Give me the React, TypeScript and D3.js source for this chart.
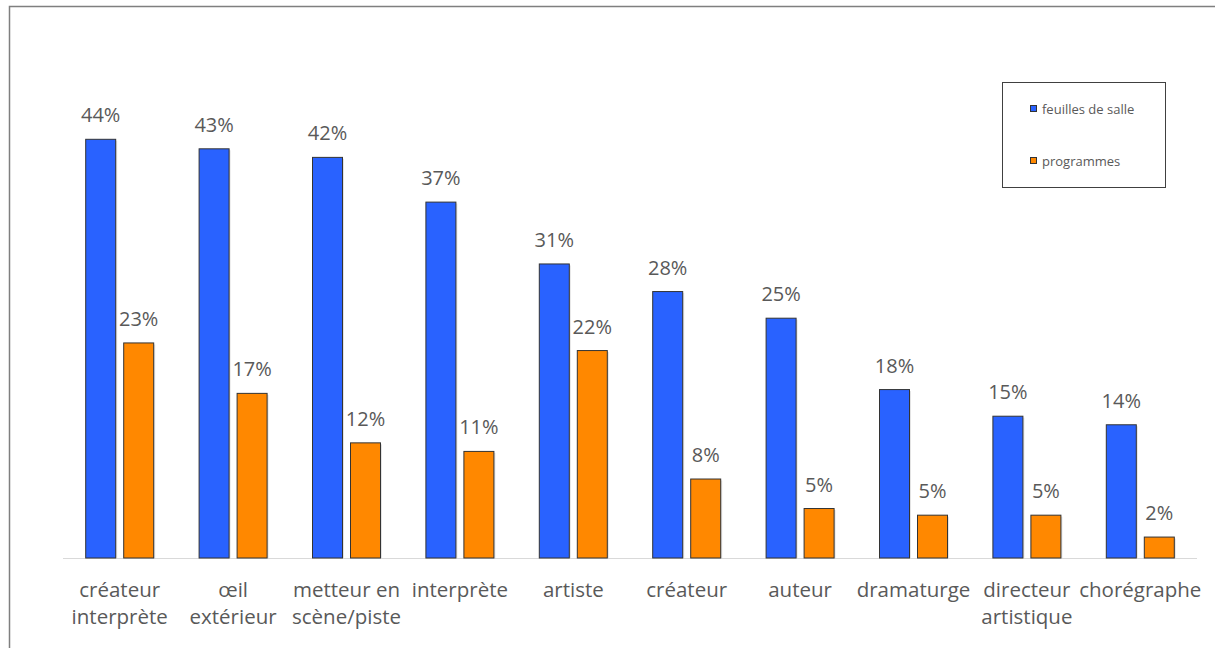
import React from "react";
import * as d3 from "d3";

const categories: string[][] = [
  ["créateur", "interprète"],
  ["œil", "extérieur"],
  ["metteur en", "scène/piste"],
  ["interprète"],
  ["artiste"],
  ["créateur"],
  ["auteur"],
  ["dramaturge"],
  ["directeur", "artistique"],
  ["chorégraphe"],
];
const feuilles: number[] = [44.0, 43.0, 42.1, 37.4, 30.9, 28.0, 25.2, 17.7, 14.9, 14.0];
const programmes: number[] = [22.6, 17.3, 12.1, 11.2, 21.8, 8.3, 5.2, 4.5, 4.5, 2.2];
const seriesNames: string[] = ["feuilles de salle", "programmes"];
const colors: string[] = ["#2962FF", "#FF8800"];

const W = 1215;
const H = 648;
const M = { left: 63, right: 1197, top: 139.3, base: 558 };
const FONT = "'Open Sans', sans-serif";

export default function App() {
  const idx = categories.map((_, i) => String(i));
  const x = d3.scaleBand<string>().domain(idx).range([M.left, M.right]).paddingInner(0).paddingOuter(0);
  const y = d3.scaleLinear().domain([0, 44]).range([M.base, M.top]);
  const barW = 30;
  const gap = 8;
  const series = [feuilles, programmes];

  return (
    <svg width={W} height={H} style={{ position: "absolute", left: 0, top: 0, background: "#fff" }}>
      <rect x={9.5} y={6.5} width={W} height={H} fill="none" stroke="#7f7f7f" strokeWidth={1.5} />
      <line x1={M.left} x2={M.right} y1={M.base + 0.5} y2={M.base + 0.5} stroke="#d9d9d9" strokeWidth={1} />
      {categories.map((cat, i) => {
        const cx = (x(String(i)) as number) + x.bandwidth() / 2;
        return (
          <g key={i}>
            {series.map((s, j) => {
              const bx = j === 0 ? cx - gap / 2 - barW : cx + gap / 2;
              const v = s[i];
              return (
                <g key={j}>
                  <rect x={bx + 1.5} y={y(v) + 1.5} width={barW} height={M.base - y(v) - 1.5} fill="#d0d0d0" opacity={0.6} />
                  <rect x={bx} y={y(v)} width={barW} height={M.base - y(v)} fill={colors[j]} stroke="#333" strokeWidth={1} />
                  <text x={bx + barW / 2} y={y(v) - 17} textAnchor="middle" fontFamily={FONT} fontSize={20} fill="#595959">
                    {Math.round(v) + "%"}
                  </text>
                </g>
              );
            })}
            {cat.map((line, k) => (
              <text key={k} x={cx} y={597 + k * 27} textAnchor="middle" fontFamily={FONT} fontSize={20.5} fill="#595959">
                {line}
              </text>
            ))}
          </g>
        );
      })}
      <rect x={1002.5} y={82.5} width={163} height={105} fill="#fff" stroke="#404040" strokeWidth={1} />
      {seriesNames.map((n, j) => (
        <g key={n}>
          <rect x={1030.5} y={105.5 + j * 52} width={6} height={6} fill={colors[j]} stroke="#333" strokeWidth={1} />
          <text x={1042} y={113.5 + j * 52} fontFamily={FONT} fontSize={13} fill="#595959">
            {n}
          </text>
        </g>
      ))}
    </svg>
  );
}
